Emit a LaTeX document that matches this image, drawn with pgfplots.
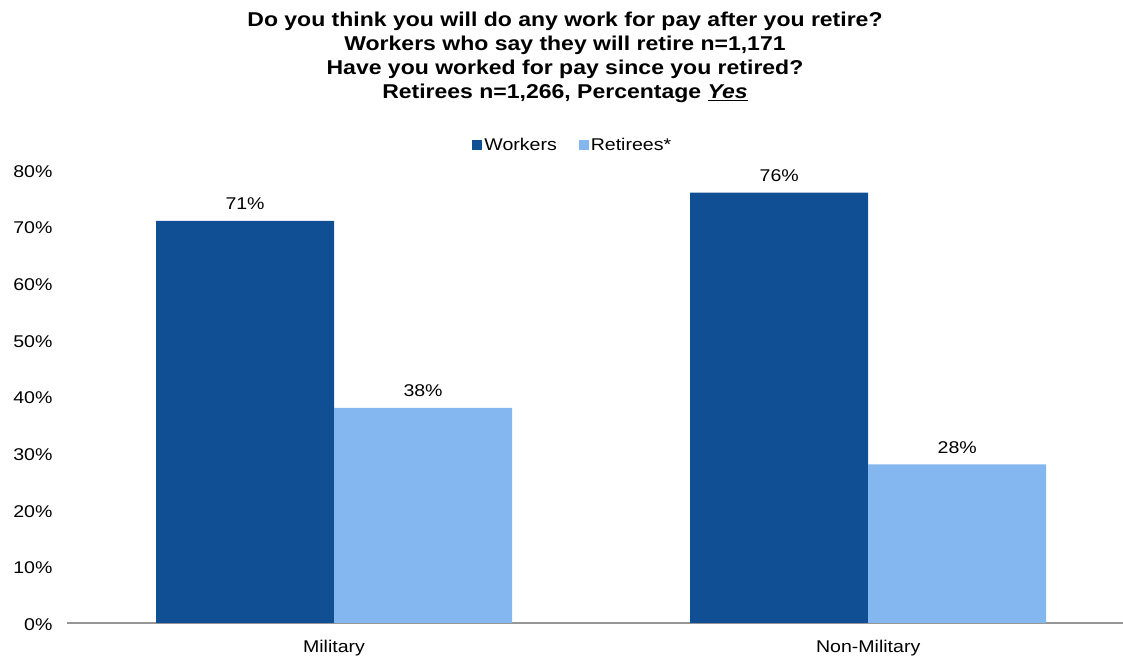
\documentclass[border=0pt]{standalone}
\usepackage{fontspec}
\setmainfont{Liberation Sans}[FakeStretch=1.15]
\usepackage{pgfplots}
\pgfplotsset{compat=1.18}
\definecolor{workers}{RGB}{17,79,148}
\definecolor{retirees}{RGB}{132,183,240}
\definecolor{axisgray}{RGB}{150,150,150}
\begin{document}
\begin{tikzpicture}
\useasboundingbox (0,0) rectangle (1123bp,658bp);
\node[anchor=north, align=center, inner sep=0pt, font=\fontsize{20bp}{24bp}\selectfont\bfseries] at (565bp,646bp)
{Do you think you will do any work for pay after you retire?\\
Workers who say they will retire n=1,171\\
Have you worked for pay since you retired?\\
Retirees n=1,266, Percentage \underline{\textit{Yes}}};
\begin{axis}[
  at={(67bp,35bp)}, anchor=south west,
  scale only axis, width=1056bp, height=453bp,
  ybar, bar width=178bp, ybar=0pt,
  xmin=-0.5, xmax=1.477, ymin=0, ymax=80,
  xtick={0,1}, xticklabels={Military, Non-Military},
  ytick={0,10,...,80},
  yticklabel={\pgfmathprintnumber{\tick}\%},
  /pgf/number format/assume math mode=true,
  major tick length=0pt,
  axis x line*=bottom, axis y line*=left,
  x axis line style={draw=axisgray, line width=1.5bp, -},
  y axis line style={draw=none},
  tick label style={font=\fontsize{17bp}{20bp}\selectfont, text=black},
  xticklabel style={yshift=-14bp},
  yticklabel style={xshift=-11bp, yshift=-1.5bp},
  nodes near coords={\pgfmathprintnumber{\pgfplotspointmeta}\%},
  every node near coord/.append style={font=\fontsize{17bp}{20bp}\selectfont, text=black, inner sep=0pt, yshift=11bp},
  legend style={at={(0.479,1.055)}, anchor=center, draw=none, fill=none,
    legend columns=2, font=\fontsize{17bp}{20bp}\selectfont,
    /tikz/every even column/.append style={column sep=20bp}},
  legend cell align=left,
]
\addplot[fill=workers, draw=none, legend image code/.code={\fill[workers] (0bp,-5bp) rectangle (10bp,5bp);}]
  coordinates {(0,71) (1,76)};
\addplot[fill=retirees, draw=none, legend image code/.code={\fill[retirees] (0bp,-5bp) rectangle (10bp,5bp);}]
  coordinates {(0,38) (1,28)};
\legend{Workers, Retirees*}
\end{axis}
\end{tikzpicture}
\end{document}
